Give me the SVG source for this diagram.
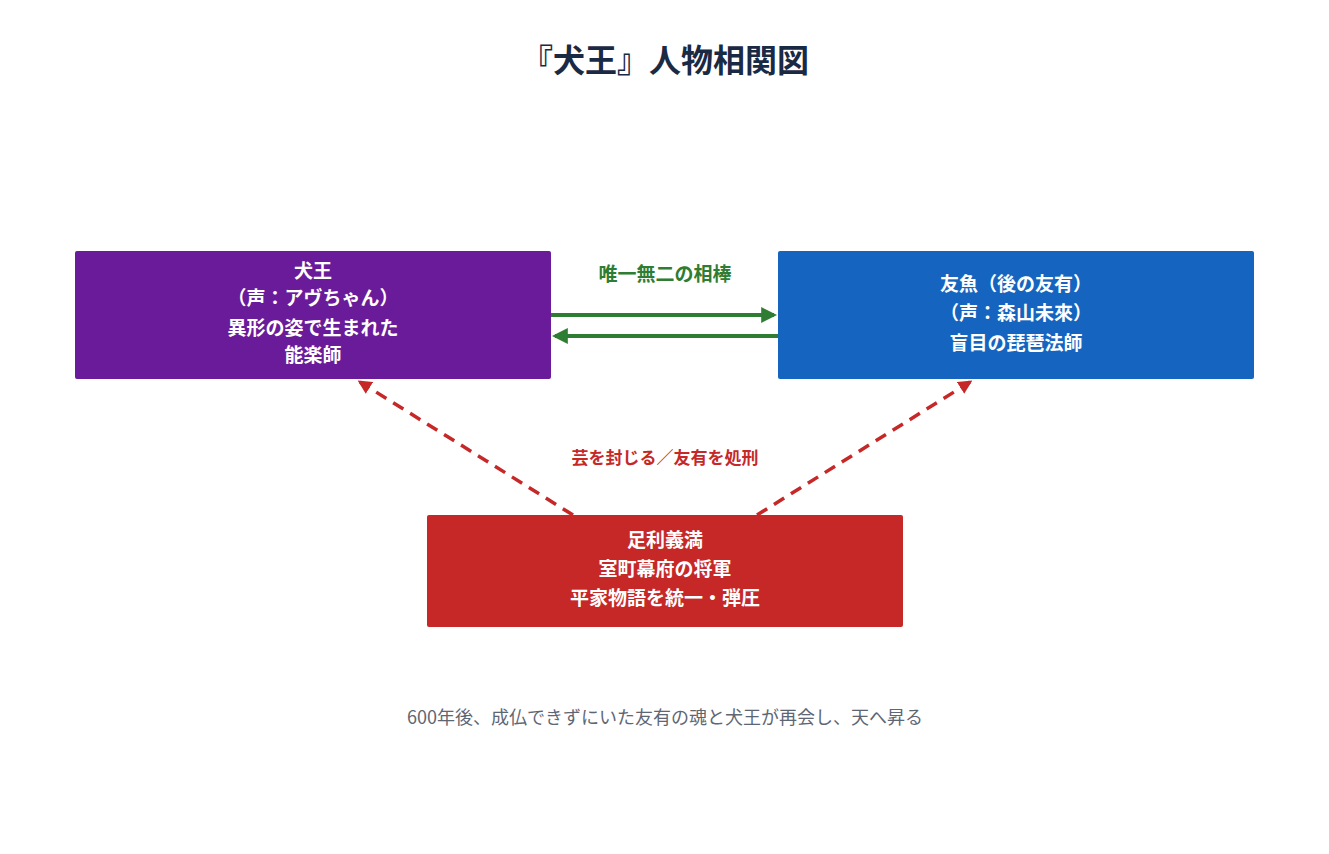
<svg xmlns="http://www.w3.org/2000/svg" width="1329" height="854" viewBox="0 0 1329 854">
<style>
text{font-family:"Noto Sans CJK JP","Noto Sans",sans-serif;text-anchor:middle}
.n{fill:#fff;font-weight:bold;font-size:19px}
.g{stroke:#2e7d32;stroke-width:4;fill:none}
.r{stroke:#c62828;stroke-width:3.5;fill:none;stroke-dasharray:12,8}
</style>
<defs>
<marker id="ag" viewBox="0 0 10 10" refX="8" refY="5" markerWidth="4" markerHeight="4" orient="auto"><path d="M0,0L10,5L0,10z" fill="#2e7d32"/></marker>
<marker id="ar" viewBox="0 0 10 10" refX="8" refY="5" markerWidth="4" markerHeight="4" orient="auto"><path d="M0,0L10,5L0,10z" fill="#c62828"/></marker>
</defs>
<rect width="1329" height="854" fill="#fff"/>
<text x="665" y="72" font-size="32" font-weight="bold" fill="#1a2a44">『犬王』人物相関図</text>
<g id="connectors">
<line class="g" x1="551" y1="315" x2="774" y2="315" marker-end="url(#ag)"/>
<line class="g" x1="778" y1="336" x2="555" y2="336" marker-end="url(#ag)"/>
<text x="665" y="281" font-size="19" font-weight="bold" fill="#2e7d32">唯一無二の相棒</text>
<line class="r" x1="573" y1="515" x2="360" y2="382" marker-end="url(#ar)"/>
<line class="r" x1="757" y1="515" x2="970" y2="382" marker-end="url(#ar)"/>
<text x="665" y="464" font-size="17" font-weight="bold" fill="#c62828">芸を封じる／友有を処刑</text>
</g>
<g id="inuou">
<rect x="75" y="251" width="476" height="128" rx="2" fill="#6a1b9a"/>
<text class="n" x="313" y="278">犬王</text>
<text class="n" x="313" y="305">（声：アヴちゃん）</text>
<text class="n" x="313" y="335">異形の姿で生まれた</text>
<text class="n" x="313" y="362" font-size="17">能楽師</text>
</g>
<g id="tomona">
<rect x="778" y="251" width="476" height="128" rx="2" fill="#1565c0"/>
<text class="n" x="1016" y="291">友魚（後の友有）</text>
<text class="n" x="1016" y="320">（声：森山未來）</text>
<text class="n" x="1016" y="350">盲目の琵琶法師</text>
</g>
<g id="yoshimitsu">
<rect x="427" y="515" width="476" height="112" rx="2" fill="#c62828"/>
<text class="n" x="665" y="547">足利義満</text>
<text class="n" x="665" y="576">室町幕府の将軍</text>
<text class="n" x="665" y="605">平家物語を統一・弾圧</text>
</g>
<text x="665" y="724" font-size="18" fill="#5f6673">600年後、成仏できずにいた友有の魂と犬王が再会し、天へ昇る</text>
</svg>
